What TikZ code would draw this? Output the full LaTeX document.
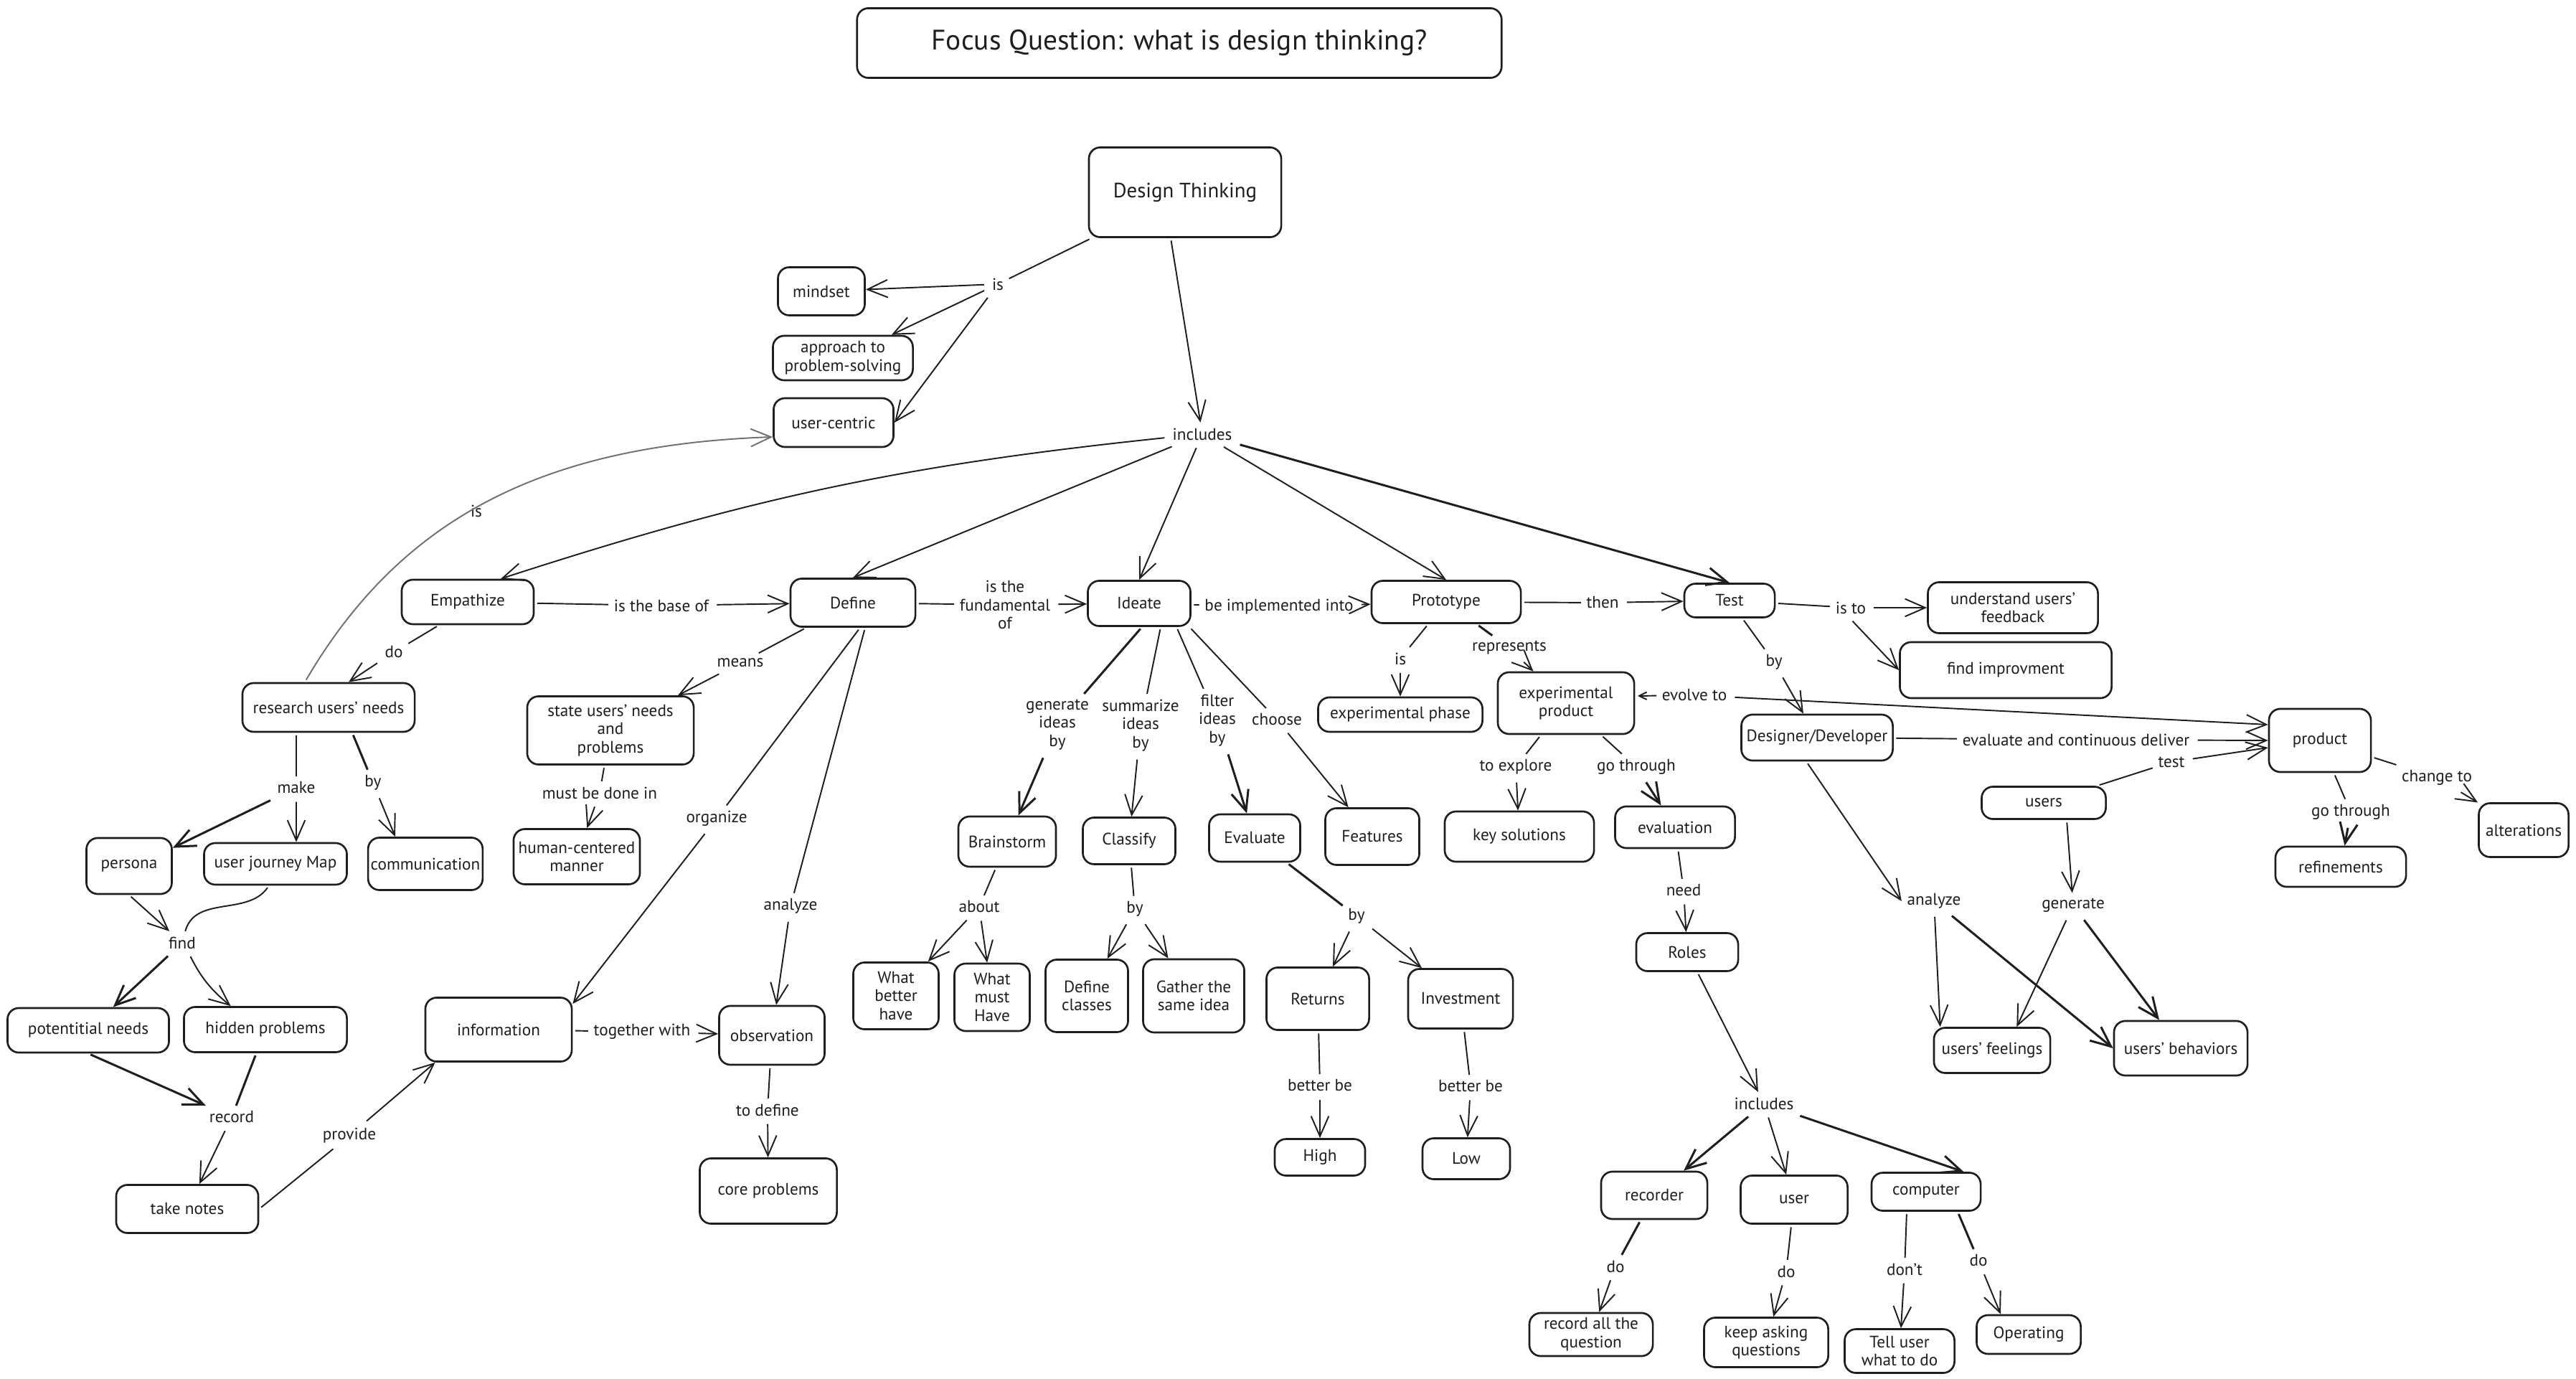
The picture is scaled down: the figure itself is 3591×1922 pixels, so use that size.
\documentclass[tikz,border=0pt]{standalone}
\usepackage{fontspec}
\setmainfont{PT Sans}
\usetikzlibrary{arrows.meta}
\definecolor{ink}{HTML}{1E1E1E}
\definecolor{soft}{HTML}{707070}
\newcommand\fsn{\fontsize{6.6}{7.3}\selectfont}
\newcommand\mybox[6]{\node[box,minimum width=#4cm,minimum height=#5cm] (#1) at (#2,#3) {#6};}
\newcommand\mylbl[4]{\node[lbl] (#1) at (#2,#3) {#4};}
\begin{document}
\begin{tikzpicture}[x=0.01cm,y=-0.01cm,
  box/.style={draw=ink,line width=0.75pt,rounded corners=4.5pt,align=center,inner sep=1pt,font=\fsn,text=ink},
  lbl/.style={inner sep=2pt,align=center,font=\fsn,text=ink},
  ln/.style={draw=ink,line width=0.55pt,shorten <=1pt},
  arr/.style={ln,-{Straight Barb[length=8pt,width=7pt]}},
  thk/.style={line width=0.85pt}]
\fill[white] (0,0) rectangle (3591,1922);
\useasboundingbox (0,0) rectangle (3591,1922);

% ---------- boxes ----------
\mybox{title}{1644}{60}{8.98}{0.97}{\fontsize{11.2}{13}\selectfont Focus Question: what is design thinking?}
\mybox{dt}{1652}{268}{2.68}{1.25}{\fontsize{8.2}{10}\selectfont Design Thinking}
\mybox{mindset}{1145}{406}{1.21}{0.67}{mindset}
\mybox{approach}{1175}{499}{1.95}{0.62}{approach to\\problem-solving}
\mybox{usercentric}{1162}{589}{1.67}{0.68}{user-centric}
\mybox{emp}{652}{839}{1.84}{0.62}{Empathize}
\mybox{define}{1189}{840}{1.74}{0.67}{Define}
\mybox{ideate}{1588}{841}{1.43}{0.63}{Ideate}
\mybox{proto}{2016}{839}{2.08}{0.59}{Prototype}
\mybox{test}{2411}{837}{1.26}{0.47}{Test}
\mybox{understand}{2806}{847}{2.37}{0.71}{understand users'\\feedback}
\mybox{findimp}{2796}{934}{2.95}{0.78}{find improvment}
\mybox{research}{458}{986}{2.40}{0.68}{research users' needs}
\mybox{state}{851}{1018}{2.32}{0.95}{state users' needs\\and\\problems}
\mybox{expphase}{1952}{996}{2.29}{0.48}{experimental phase}
\mybox{expprod}{2183}{980}{1.90}{0.86}{experimental\\product}
\mybox{designer}{2533}{1028}{2.11}{0.64}{Designer/Developer}
\mybox{product}{3234}{1032}{1.42}{0.88}{product}
\mybox{users}{2849}{1119}{1.73}{0.45}{users}
\mybox{persona}{180}{1207}{1.19}{0.78}{persona}
\mybox{journey}{384}{1204}{1.99}{0.58}{user journey Map}
\mybox{comm}{593}{1204}{1.49}{0.73}{communication}
\mybox{human}{804}{1194}{1.76}{0.77}{human-centered\\manner}
\mybox{brain}{1404}{1173}{1.36}{0.70}{Brainstorm}
\mybox{classify}{1574}{1172}{1.29}{0.65}{Classify}
\mybox{evaluate}{1749}{1168}{1.27}{0.66}{Evaluate}
\mybox{features}{1913}{1166}{1.31}{0.79}{Features}
\mybox{keysol}{2118}{1166}{2.08}{0.70}{key solutions}
\mybox{evaluation}{2335}{1153}{1.67}{0.58}{evaluation}
\mybox{refine}{3263}{1208}{1.82}{0.56}{refinements}
\mybox{alter}{3518}{1157}{1.25}{0.75}{alterations}
\mybox{roles}{2352}{1327}{1.42}{0.53}{Roles}
\mybox{whatbetter}{1249}{1388}{1.19}{0.93}{What\\better\\have}
\mybox{whatmust}{1383}{1390}{1.05}{0.94}{What\\must\\Have}
\mybox{defclasses}{1515}{1388}{1.15}{1.01}{Define\\classes}
\mybox{gather}{1664}{1388}{1.41}{1.02}{Gather the\\same idea}
\mybox{returns}{1837}{1392}{1.43}{0.87}{Returns}
\mybox{invest}{2036}{1392}{1.46}{0.83}{Investment}
\mybox{potential}{123}{1436}{2.25}{0.62}{potentitial needs}
\mybox{hidden}{370}{1435}{2.27}{0.63}{hidden problems}
\mybox{info}{695}{1435}{2.04}{0.89}{information}
\mybox{obs}{1076}{1443}{1.47}{0.82}{observation}
\mybox{feelings}{2777}{1464}{1.62}{0.63}{users' feelings}
\mybox{behaviors}{3040}{1461}{1.86}{0.76}{users' behaviors}
\mybox{high}{1840}{1613}{1.26}{0.51}{High}
\mybox{low}{2044}{1615}{1.22}{0.57}{Low}
\mybox{takenotes}{261}{1685}{1.98}{0.67}{take notes}
\mybox{core}{1071}{1660}{1.91}{0.91}{core problems}
\mybox{recorder}{2306}{1666}{1.48}{0.66}{recorder}
\mybox{user}{2501}{1672}{1.49}{0.67}{user}
\mybox{computer}{2685}{1661}{1.52}{0.53}{computer}
\mybox{recordall}{2218}{1860}{1.72}{0.60}{record all the\\question}
\mybox{keep}{2462}{1871}{1.73}{0.69}{keep asking\\questions}
\mybox{tell}{2648}{1883}{1.53}{0.61}{Tell user\\what to do}
\mybox{operating}{2828}{1860}{1.45}{0.54}{Operating}

% ---------- labels ----------
\mylbl{l_is}{1391}{396}{is}
\mylbl{l_incl}{1676}{605}{includes}
\mylbl{l_isuc}{664}{712}{is}
\mylbl{l_base}{922}{844}{is the base of}
\mylbl{l_fund}{1401}{843}{is the\\fundamental\\of}
\mylbl{l_impl}{1783}{846}{be implemented into}
\mylbl{l_then}{2234}{840}{then}
\mylbl{l_isto}{2580}{847}{is to}
\mylbl{l_do1}{549}{909}{do}
\mylbl{l_means}{1032}{924}{means}
\mylbl{l_make}{413}{1098}{make}
\mylbl{l_by1}{520}{1091}{by}
\mylbl{l_must}{836}{1105}{must be done in}
\mylbl{l_org}{999}{1141}{organize}
\mylbl{l_anal1}{1102}{1263}{analyze}
\mylbl{l_find}{254}{1314}{find}
\mylbl{l_record}{323}{1557}{record}
\mylbl{l_provide}{487}{1583}{provide}
\mylbl{l_together}{895}{1438}{together with}
\mylbl{l_todefine}{1070}{1547}{to define}
\mylbl{l_gen}{1474}{1010}{generate\\ideas\\by}
\mylbl{l_sum}{1590}{1011}{summarize\\ideas\\by}
\mylbl{l_filter}{1697}{1004}{filter\\ideas\\by}
\mylbl{l_choose}{1780}{1003}{choose}
\mylbl{l_is2}{1952}{918}{is}
\mylbl{l_repr}{2104}{903}{represents}
\mylbl{l_evolve}{2362}{969}{evolve to}
\mylbl{l_by2}{2473}{923}{by}
\mylbl{l_explore}{2113}{1069}{to explore}
\mylbl{l_gothrough}{2281}{1069}{go through}
\mylbl{l_need}{2347}{1241}{need}
\mylbl{l_about}{1365}{1264}{about}
\mylbl{l_by3}{1582}{1267}{by}
\mylbl{l_by4}{1891}{1277}{by}
\mylbl{l_better1}{1840}{1513}{better be}
\mylbl{l_better2}{2050}{1514}{better be}
\mylbl{l_evaldeliv}{2894}{1031}{evaluate and continuous deliver}
\mylbl{l_test}{3027}{1062}{test}
\mylbl{l_change}{3397}{1084}{change to}
\mylbl{l_gothrough2}{3277}{1132}{go through}
\mylbl{l_anal2}{2696}{1256}{analyze}
\mylbl{l_gen2}{2890}{1262}{generate}
\mylbl{l_incl2}{2459}{1538}{includes}
\mylbl{l_do2}{2252}{1765}{do}
\mylbl{l_do3}{2490}{1772}{do}
\mylbl{l_dont}{2655}{1769}{don't}
\mylbl{l_do4}{2758}{1757}{do}

% ---------- connectors ----------
\draw[ln] (dt) -- (l_is);
\draw[arr] (l_is) -- (mindset);
\draw[arr] (l_is) -- (approach);
\draw[arr] (l_is) -- (usercentric.east);
\draw[arr] ([xshift=-0.2cm]dt.south) -- (l_incl);
\draw[arr] (l_incl) to[bend right=6] ([xshift=0.46cm]emp.north);
\draw[arr] (l_incl) -- (define.north);
\draw[arr] (l_incl) -- (ideate.north);
\draw[arr] (l_incl) -- (proto.north);
\draw[arr,thk] (l_incl) -- (test.north);
\draw[ln,draw=soft,-{Straight Barb[length=8pt,width=7pt]}] ([xshift=-0.33cm]research.north) .. controls (560,720) and (760,620) .. ([yshift=-0.2cm]usercentric.west);

\draw[ln] (emp) -- (l_base); \draw[arr] (l_base) -- (define);
\draw[ln] (define) -- (l_fund); \draw[arr] (l_fund) -- (ideate);
\draw[ln] (ideate) -- (l_impl); \draw[arr] (l_impl) -- (proto);
\draw[ln] (proto) -- (l_then); \draw[arr] (l_then) -- (test);
\draw[ln] (test) -- (l_isto); \draw[arr] (l_isto) -- (understand);
\draw[arr] (l_isto.south) -- (findimp.west);

\draw[ln] ([xshift=-0.4cm]emp.south) -- (l_do1); \draw[arr] (l_do1) -- ([xshift=0.28cm]research.north);
\draw[ln] (define) -- (l_means); \draw[arr] (l_means) -- (state);
\draw[ln] ([xshift=-0.45cm]research.south) -- (l_make);
\draw[arr,thk] (l_make) -- ([yshift=-0.15cm]persona.north east);
\draw[arr] (l_make) -- ([xshift=0.29cm]journey.north);
\draw[ln,thk] ([xshift=0.33cm]research.south) -- (l_by1); \draw[arr] (l_by1) -- ([xshift=-0.42cm]comm.north);
\draw[ln] (state) -- (l_must); \draw[arr] (l_must) -- (human);
\draw[ln] ([xshift=0.1cm]define.south) -- (l_org); \draw[arr] (l_org) -- ([yshift=-0.1cm]info.north east);
\draw[ln] ([xshift=0.17cm]define.south) -- (l_anal1); \draw[arr] (l_anal1) -- (obs);
\draw[arr] (persona.south) -- (l_find);
\draw[ln] ([xshift=-0.09cm]journey.south) to[out=-125,in=75] (l_find);
\draw[arr,thk] (l_find) -- (potential);
\draw[arr] (l_find) to[bend right=12] (hidden);
\draw[arr,thk] (potential.south) -- (l_record);
\draw[ln,thk] (hidden) -- (l_record);
\draw[arr] (l_record) -- (takenotes);
\draw[ln] (takenotes.east) -- (l_provide); \draw[arr] (l_provide) -- ([xshift=0.15cm]info.south west);
\draw[ln] (info) -- (l_together); \draw[arr] (l_together) -- (obs);
\draw[ln] (obs) -- (l_todefine); \draw[arr] (l_todefine) -- (core);

\draw[ln,thk] ([xshift=0.04cm]ideate.south) -- (l_gen); \draw[arr,thk] (l_gen) -- (brain);
\draw[ln] ([xshift=0.3cm]ideate.south) -- (l_sum); \draw[arr] (l_sum) -- (classify);
\draw[ln] ([xshift=0.52cm]ideate.south) -- (l_filter); \draw[arr,thk] (l_filter) -- (evaluate);
\draw[ln] ([xshift=0.7cm]ideate.south) -- (l_choose); \draw[arr] (l_choose) -- (features);
\draw[ln] (brain) -- (l_about); \draw[arr] (l_about) -- (whatbetter); \draw[arr] (l_about) -- (whatmust);
\draw[ln] (classify) -- (l_by3); \draw[arr] (l_by3) -- (defclasses); \draw[arr] (l_by3) -- (gather);
\draw[ln,thk] (evaluate) -- (l_by4); \draw[arr] (l_by4) -- (returns); \draw[arr] (l_by4) -- (invest);
\draw[ln] (returns) -- (l_better1); \draw[arr] (l_better1) -- (high);
\draw[ln] (invest) -- (l_better2); \draw[arr] (l_better2) -- (low);

\draw[ln] (proto) -- (l_is2); \draw[arr] (l_is2) -- (expphase);
\draw[ln,thk] (proto) -- (l_repr); \draw[arr] (l_repr) -- (expprod);
\draw[ln,{Straight Barb[length=3pt,width=3pt]}-] ([yshift=0.1cm]expprod.east) -- (l_evolve);
\draw[arr] (l_evolve) -- ([yshift=0.22cm]product.west);
\draw[ln] (expprod) -- (l_explore); \draw[arr] (l_explore) -- (keysol);
\draw[ln] (expprod) -- (l_gothrough); \draw[arr,thk] (l_gothrough) -- (evaluation);
\draw[ln] (evaluation) -- (l_need); \draw[arr] (l_need) -- (roles);
\draw[arr] (roles) -- (l_incl2);
\draw[arr,thk] (l_incl2) -- (recorder);
\draw[arr] (l_incl2) -- (user);
\draw[arr,thk] (l_incl2) -- ([xshift=-0.25cm]computer.north east);
\draw[ln,thk] (recorder) -- (l_do2); \draw[arr] (l_do2) -- (recordall);
\draw[ln] (user) -- (l_do3); \draw[arr] (l_do3) -- (keep);
\draw[ln] ([xshift=-0.27cm]computer.south) -- (l_dont); \draw[arr] (l_dont) -- (tell);
\draw[ln,thk] ([xshift=0.44cm]computer.south) -- (l_do4); \draw[arr] (l_do4) -- ([xshift=-0.39cm]operating.north);

\draw[ln] (test) -- (l_by2); \draw[arr] (l_by2) -- (designer);
\draw[ln] (designer) -- (l_evaldeliv); \draw[arr] (l_evaldeliv) -- (product.west);
\draw[ln] (users) -- (l_test); \draw[arr] (l_test) -- ([yshift=-0.1cm]product.west);
\draw[ln] (product) -- (l_change); \draw[arr] (l_change) -- (alter);
\draw[ln] (product) -- (l_gothrough2); \draw[arr,thk] (l_gothrough2) -- (refine);
\draw[arr] ([xshift=-0.15cm]designer.south) -- (l_anal2.west);
\draw[arr] (l_anal2) -- ([xshift=0.1cm]feelings.north west);
\draw[arr,thk] (l_anal2) -- (behaviors.west);
\draw[arr] ([xshift=0.32cm]users.south) -- (l_gen2);
\draw[arr] (l_gen2) -- ([xshift=-0.48cm]feelings.north east);
\draw[arr,thk] (l_gen2) -- ([xshift=-0.3cm]behaviors.north);
\end{tikzpicture}
\end{document}
